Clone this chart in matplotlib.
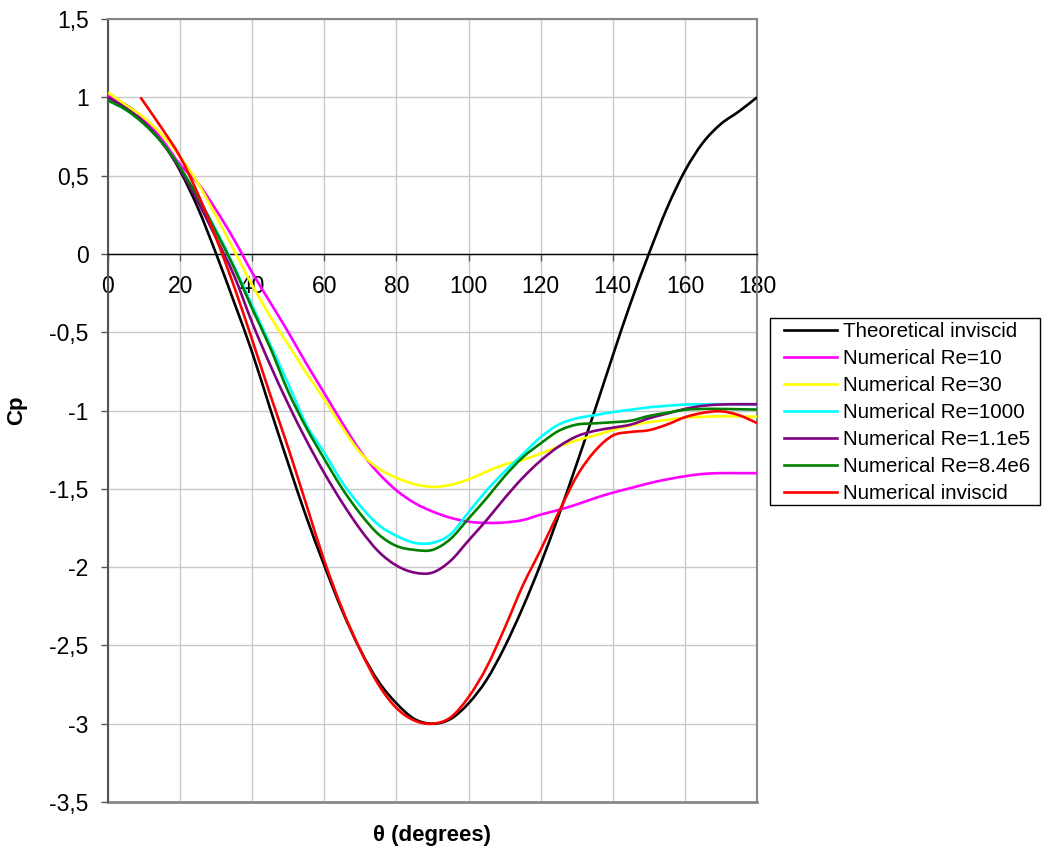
import matplotlib
matplotlib.use('Agg')
import matplotlib.pyplot as plt
from matplotlib.lines import Line2D
from matplotlib.patches import PathPatch, Rectangle
from matplotlib.path import Path
from matplotlib.ticker import FuncFormatter, MultipleLocator

plt.rcParams['font.family'] = ['Liberation Sans', 'DejaVu Sans']

# angle grid (degrees) shared by most series
theta = [0, 5, 10, 15, 20, 25, 30, 35, 40, 45, 50, 55, 60, 65, 70, 75, 80, 85, 90,
         95, 100, 105, 110, 115, 120, 125, 130, 135, 140, 145, 150, 155, 160, 165,
         170, 175, 180]

cp_theory = [1.0, 0.95, 0.86, 0.72, 0.53, 0.29, 0.0, -0.31, -0.63, -0.99, -1.34, -1.68,
             -1.99, -2.28, -2.53, -2.73, -2.87, -2.97, -3.0, -2.97, -2.87, -2.72, -2.51,
             -2.26, -1.98, -1.67, -1.34, -1.0, -0.65, -0.31, 0.0, 0.29, 0.53, 0.71, 0.83,
             0.91, 1.0]

cp_re10 = [1.01, 0.95, 0.86, 0.73, 0.57, 0.45, 0.28, 0.09, -0.12, -0.31, -0.50, -0.70,
           -0.89, -1.08, -1.26, -1.40, -1.51, -1.59, -1.645, -1.685, -1.71, -1.718,
           -1.715, -1.70, -1.665, -1.635, -1.60, -1.56, -1.525, -1.495, -1.465, -1.44,
           -1.42, -1.405, -1.40, -1.40, -1.40]

cp_re30 = [1.03, 0.95, 0.87, 0.76, 0.62, 0.45, 0.24, 0.02, -0.20, -0.40, -0.58, -0.76,
           -0.93, -1.11, -1.27, -1.37, -1.43, -1.47, -1.488, -1.475, -1.44, -1.39, -1.345,
           -1.315, -1.275, -1.23, -1.19, -1.16, -1.125, -1.095, -1.075, -1.06, -1.045,
           -1.04, -1.037, -1.038, -1.04]

cp_re1000 = [0.98, 0.92, 0.83, 0.71, 0.55, 0.36, 0.15, -0.08, -0.33, -0.58, -0.83, -1.09,
             -1.27, -1.46, -1.61, -1.73, -1.80, -1.845, -1.845, -1.79, -1.65, -1.51, -1.39,
             -1.28, -1.17, -1.09, -1.05, -1.03, -1.01, -0.995, -0.98, -0.97, -0.962, -0.96,
             -0.96, -0.96, -0.962]

cp_re11e5 = [1.0, 0.93, 0.84, 0.71, 0.54, 0.33, 0.10, -0.14, -0.44, -0.71, -0.96, -1.19,
             -1.40, -1.59, -1.76, -1.90, -1.99, -2.035, -2.035, -1.96, -1.83, -1.70, -1.56,
             -1.43, -1.32, -1.23, -1.165, -1.13, -1.11, -1.09, -1.05, -1.02, -0.99, -0.97,
             -0.962, -0.96, -0.96]

cp_re84e6 = [0.98, 0.92, 0.83, 0.71, 0.55, 0.36, 0.14, -0.09, -0.35, -0.60, -0.88, -1.11,
             -1.31, -1.50, -1.66, -1.79, -1.865, -1.89, -1.89, -1.82, -1.69, -1.56, -1.42,
             -1.30, -1.21, -1.13, -1.09, -1.082, -1.075, -1.065, -1.035, -1.015, -0.995,
             -0.99, -0.99, -0.992, -0.994]

# numerical inviscid starts a bit later
theta_inv = [9, 15, 20, 25, 30, 35, 40, 45, 50, 55, 60, 65, 70, 75, 80, 85, 90, 95, 100,
             105, 110, 115, 120, 125, 130, 135, 140, 145, 150, 155, 160, 165, 170, 175, 180]
cp_inv = [1.0, 0.80, 0.62, 0.38, 0.10, -0.21, -0.55, -0.90, -1.24, -1.60, -1.96, -2.27,
          -2.53, -2.75, -2.90, -2.98, -3.0, -2.96, -2.83, -2.64, -2.39, -2.12, -1.89, -1.65,
          -1.42, -1.26, -1.16, -1.137, -1.126, -1.09, -1.043, -1.015, -1.005, -1.03, -1.08]

series = [
    (theta, cp_theory, 'black', 'Theoretical inviscid'),
    (theta, cp_re10, '#FF00FF', 'Numerical Re=10'),
    (theta, cp_re30, '#FFFF00', 'Numerical Re=30'),
    (theta, cp_re1000, '#00FFFF', 'Numerical Re=1000'),
    (theta, cp_re11e5, '#800080', 'Numerical Re=1.1e5'),
    (theta, cp_re84e6, '#008000', 'Numerical Re=8.4e6'),
    (theta_inv, cp_inv, '#FF0000', 'Numerical inviscid'),
]


def smooth_path(x, y):
    # spreadsheet-style smoothed line: cubic bezier through the points
    pts = list(zip(x, y))
    n = len(pts)
    verts = [pts[0]]
    codes = [Path.MOVETO]
    for i in range(n - 1):
        p0 = pts[max(i - 1, 0)]
        p1 = pts[i]
        p2 = pts[i + 1]
        p3 = pts[min(i + 2, n - 1)]
        c1 = (p1[0] + (p2[0] - p0[0]) / 6, p1[1] + (p2[1] - p0[1]) / 6)
        c2 = (p2[0] - (p3[0] - p1[0]) / 6, p2[1] - (p3[1] - p1[1]) / 6)
        verts += [c1, c2, p2]
        codes += [Path.CURVE4] * 3
    return Path(verts, codes)


fig = plt.figure(figsize=(10.42, 8.51), dpi=100)
ax = fig.add_axes([108 / 1042, 1 - 802 / 851, (757 - 108) / 1042, (802 - 19) / 851])

handles = []
for x, y, c, lab in series:
    ax.add_patch(PathPatch(smooth_path(x, y), fill=False, edgecolor=c, lw=1.9,
                           zorder=3, joinstyle='round', capstyle='butt'))
    handles.append(Line2D([], [], color=c, lw=1.9, label=lab))

ax.set_xlim(0, 180)
ax.set_ylim(-3.5, 1.5)
ax.xaxis.set_major_locator(MultipleLocator(20))
ax.yaxis.set_major_locator(MultipleLocator(0.5))
ax.yaxis.set_major_formatter(FuncFormatter(lambda v, p: f'{v:g}'.replace('.', ',')))

ax.set_axisbelow(True)
ax.grid(True, color='#c8c8c8', lw=1)

ax.spines['bottom'].set_position(('data', 0))
ax.spines['bottom'].set_color('black')
ax.spines['bottom'].set_linewidth(1)
ax.spines['left'].set_color('#555555')
ax.spines['left'].set_linewidth(1.5)
for s in ('top', 'right'):
    ax.spines[s].set_color('#888888')
    ax.spines[s].set_linewidth(1.5)
ax.axhline(-3.5, color='#888888', lw=2, clip_on=False, zorder=2.5)

ax.tick_params(axis='x', direction='out', length=5, width=1, color='#555555',
               labelsize=16.5, pad=10)
ax.tick_params(axis='y', direction='out', length=5, width=1, color='#555555',
               labelsize=16.5, pad=9)

ax.set_ylabel('Cp', fontsize=16, fontweight='bold', labelpad=16)
fig.text(432 / 1042, 1 - 835 / 851, 'θ (degrees)', fontsize=16, fontweight='bold',
         ha='center', va='center')

# legend box drawn separately so the padding matches the original
fig.patches.append(Rectangle((770 / 1042, 1 - 505 / 851), 270 / 1042, 187 / 851,
                             transform=fig.transFigure, fill=False,
                             edgecolor='black', lw=1))
fig.legend(handles=handles, loc='upper left',
           bbox_to_anchor=(784 / 1042, 1 - 322 / 851),
           fontsize=14.75, frameon=False, borderaxespad=0, borderpad=0,
           handlelength=2.6, handletextpad=0.3, labelspacing=0.39)

fig.savefig('out.png', dpi=100)
